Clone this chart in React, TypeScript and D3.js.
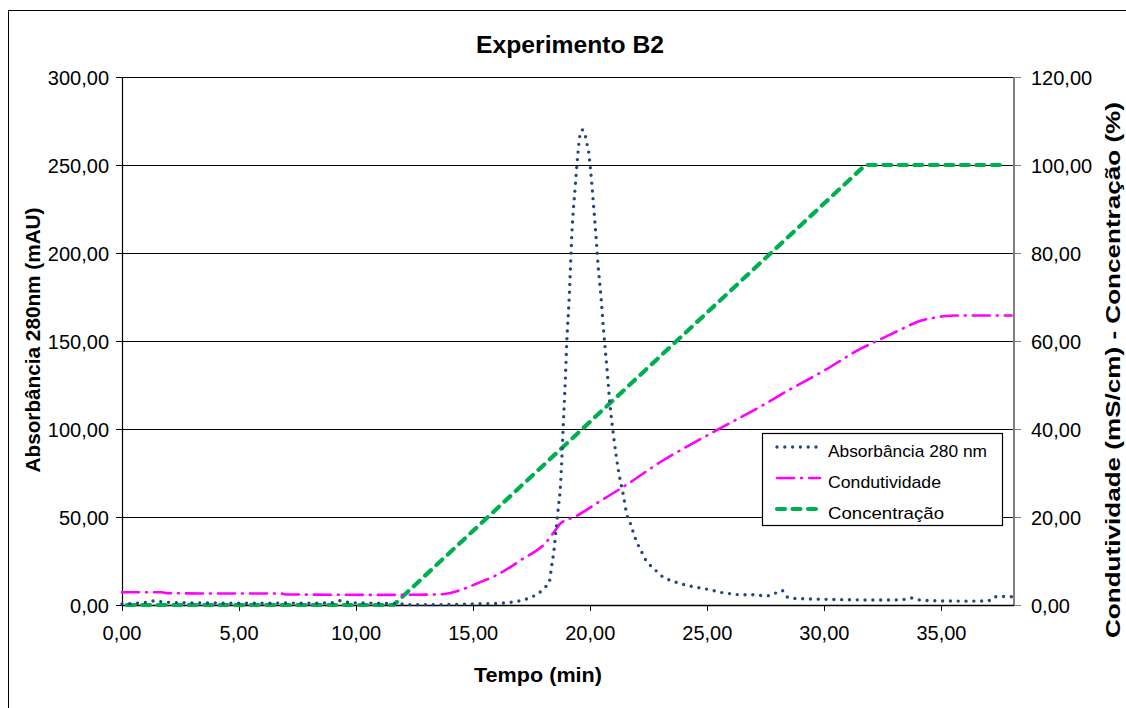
import * as d3 from 'd3';
import React from 'react';

// Absorbância 280 nm (eixo esquerdo, mAU)
const absTime = [
  0, 0.5, 1.0, 1.3, 1.6, 2.0, 3.0, 4.0, 5.0, 6.0, 7.0, 8.0, 9.0, 9.3, 9.6, 10.0, 11.0, 11.8, 12.3, 13.0,
  14.0, 15.0, 16.0, 16.6, 17.0, 17.3, 17.6, 17.9, 18.1, 18.25, 18.35, 18.45, 18.55, 18.65, 18.72, 18.79,
  18.85, 18.93, 19.0, 19.1, 19.22, 19.36, 19.47, 19.55, 19.65, 19.79, 19.86, 19.93, 20.0, 20.1, 20.18,
  20.26, 20.33, 20.46, 20.57, 20.71, 20.85, 21.0, 21.2, 21.42, 21.57, 21.71, 21.82, 21.92, 22.05, 22.2,
  22.35, 22.55, 22.8, 23.0, 23.3, 23.6, 23.9, 24.2, 24.5, 24.8, 25.1, 25.4, 25.7, 26.0, 26.3, 27.0, 27.4,
  27.7, 28.0, 28.2, 28.4, 28.7, 29.5, 30.5, 31.5, 32.5, 33.3, 33.7, 34.0, 34.5, 35.0, 36.0, 37.0, 37.2,
  37.6, 38.0,
];
const absorbance = [
  0.6, 0.8, 1.5, 2.3, 2.0, 1.5, 1.2, 1.1, 1.0, 1.0, 1.1, 1.0, 1.3, 2.4, 1.6, 1.2, 1.0, 0.7, 0.2, 0.1,
  0.3, 0.6, 0.9, 1.5, 2.4, 3.5, 5.2, 7.8, 10.4, 13, 22, 31, 44, 57, 66, 84,
  103, 126, 150, 174, 212, 238, 256, 266, 270, 266.5, 262, 257.6, 249, 234, 220.6,
  207, 194, 175, 156, 135, 113, 95.6, 76.7, 62, 51, 46.5, 42, 38, 34, 30,
  26, 22.7, 19.6, 17, 14.7, 13.2, 12, 11, 10.1, 9.4, 8.7, 7.8, 6.8, 6.4, 5.9, 5.8, 5.3,
  5.3, 7.4, 8.2, 4.6, 3.7, 3.4, 3.1, 2.9, 2.8, 3.0, 4.0, 3.0, 2.5, 2.3, 2.2, 2.3, 4.5,
  4.8, 4.7,
];

// Condutividade (eixo direito, mS/cm)
const condTime = [
  0, 1.7, 1.9, 4.0, 6.8, 7.0, 11.0, 13.5, 13.9, 14.4, 15.3, 16.0, 16.7, 17.15, 17.6, 18.0, 18.5, 18.7,
  19.4, 20.3, 21.6, 23.0, 24.4, 25.6, 27.0, 28.6, 30.0, 31.5, 32.4, 33.3, 34.1, 34.7, 35.2, 35.6, 38.0,
];
const conductivity = [
  2.9, 2.9, 2.7, 2.6, 2.6, 2.4, 2.3, 2.4, 2.6, 3.3, 5.2, 6.8, 9.0, 10.6, 12.0, 13.6, 16.9, 18.4,
  20.2, 23.2, 27.5, 32.5, 36.8, 40.3, 44.3, 49.2, 53.3, 58.1, 60.4, 62.7, 64.6, 65.3, 65.7, 65.8, 65.8,
];

// Concentração (eixo direito, %)
const concTime = [0.2, 11.6, 31.75, 37.5];
const concentration = [0, 0, 100, 100];

const xTicks = [0, 5, 10, 15, 20, 25, 30, 35];
const leftTicks = [0, 50, 100, 150, 200, 250, 300];
const rightTicks = [0, 20, 40, 60, 80, 100, 120];
const legendLabels = ['Absorbância 280 nm', 'Condutividade', 'Concentração'];

const FONT = '"Liberation Sans", Arial, sans-serif';
const BLUE = '#24477f';
const MAGENTA = '#ff00ff';
const GREEN = '#00b050';

const fmt = (v: number) => v.toFixed(2).replace('.', ',');

export default function App() {
  const left = 122;
  const right = 1014;
  const top = 77;
  const bottom = 605;

  const x = d3.scaleLinear().domain([0, 38.1]).range([left, right]);
  const yL = d3.scaleLinear().domain([0, 300]).range([bottom, top]);
  const yR = d3.scaleLinear().domain([0, 120]).range([bottom, top]);

  const lineL = d3
    .line<number>()
    .x((d, i) => x(absTime[i]))
    .y(d => yL(d))
    .curve(d3.curveMonotoneX);
  const condLine = d3
    .line<number>()
    .x((d, i) => x(condTime[i]))
    .y(d => yR(d))
    .curve(d3.curveMonotoneX);
  const concLine = d3
    .line<number>()
    .x((d, i) => x(concTime[i]))
    .y(d => yR(d));

  const legendStyles = [
    { stroke: BLUE, width: 3.4, dash: '0 7.8', cap: 'round' },
    { stroke: MAGENTA, width: 2.6, dash: '17 7 1 7', cap: 'round' },
    { stroke: GREEN, width: 4.2, dash: '8 7.5', cap: 'round' },
  ];

  return (
    <svg
      width={1126}
      height={708}
      style={{ position: 'absolute', left: 0, top: 0, background: '#fff' }}
      fontFamily={FONT}
    >
      <rect x={8.5} y={10.5} width={1130} height={720} fill="#fff" stroke="#000" strokeWidth={1} />

      <text x={570} y={53} textAnchor="middle" fontSize={23} fontWeight="bold" textLength={188} lengthAdjust="spacingAndGlyphs">
        Experimento B2
      </text>

      {/* gridlines */}
      {leftTicks.map(t => (
        <line key={'g' + t} x1={left} x2={right} y1={Math.round(yL(t)) + 0.5} y2={Math.round(yL(t)) + 0.5} stroke="#000" strokeWidth={1.2} />
      ))}

      {/* left axis */}
      <line x1={left + 0.5} x2={left + 0.5} y1={top} y2={bottom} stroke="#000" strokeWidth={1.2} />
      {leftTicks.map(t => (
        <g key={'l' + t}>
          <line x1={left - 6} x2={left} y1={Math.round(yL(t)) + 0.5} y2={Math.round(yL(t)) + 0.5} stroke="#000" />
          <text x={109} y={yL(t) + 7.5} textAnchor="end" fontSize={20}>
            {fmt(t)}
          </text>
        </g>
      ))}

      {/* right axis */}
      <line x1={right} x2={right} y1={top} y2={bottom + 1} stroke="#808080" strokeWidth={2} />
      {rightTicks.map(t => (
        <g key={'r' + t}>
          <line x1={right} x2={right + 7} y1={Math.round(yR(t)) + 0.5} y2={Math.round(yR(t)) + 0.5} stroke="#808080" />
          <text x={1031} y={yR(t) + 7.5} textAnchor="start" fontSize={20}>
            {fmt(t)}
          </text>
        </g>
      ))}

      {/* x axis */}
      <line x1={left} x2={right} y1={bottom + 0.5} y2={bottom + 0.5} stroke="#000" strokeWidth={1.5} />
      {xTicks.map(t => (
        <g key={'x' + t}>
          <line x1={Math.round(x(t)) + 0.5} x2={Math.round(x(t)) + 0.5} y1={bottom} y2={bottom + 6} stroke="#000" />
          <text x={x(t)} y={639.5} textAnchor="middle" fontSize={20}>
            {fmt(t)}
          </text>
        </g>
      ))}

      <text x={538} y={682} textAnchor="middle" fontSize={21} fontWeight="bold" textLength={128} lengthAdjust="spacingAndGlyphs">
        Tempo (min)
      </text>
      <text
        transform="translate(40,340) rotate(-90)"
        textAnchor="middle"
        fontSize={21}
        fontWeight="bold"
        textLength={265}
        lengthAdjust="spacingAndGlyphs"
      >
        Absorbância 280nm (mAU)
      </text>
      <text
        transform="translate(1120,370) rotate(-90)"
        textAnchor="middle"
        fontSize={21}
        fontWeight="bold"
        textLength={536}
        lengthAdjust="spacingAndGlyphs"
      >
        Condutividade (mS/cm) - Concentração (%)
      </text>

      {/* series */}
      <path d={concLine(concentration) || ''} fill="none" stroke={GREEN} strokeWidth={4.2} strokeDasharray="8 7.5" strokeLinecap="round" />
      <path d={condLine(conductivity) || ''} fill="none" stroke={MAGENTA} strokeWidth={2.6} strokeDasharray="17 7 1 7" strokeLinecap="round" />
      <path d={lineL(absorbance) || ''} fill="none" stroke={BLUE} strokeWidth={3.4} strokeDasharray="0 7.8" strokeLinecap="round" />

      {/* legend */}
      <rect x={762.5} y={433.5} width={240} height={92} fill="#fff" stroke="#000" strokeWidth={1.2} />
      {legendLabels.map((label, i) => {
        const cy = 447 + i * 31;
        const s = legendStyles[i];
        return (
          <g key={label}>
            <line
              x1={777}
              x2={820}
              y1={cy}
              y2={cy}
              stroke={s.stroke}
              strokeWidth={s.width}
              strokeDasharray={s.dash}
              strokeLinecap={s.cap as any}
            />
            <text x={828} y={cy + 9.5} fontSize={17} textLength={i === 0 ? 159 : i === 1 ? 113 : 116} lengthAdjust="spacingAndGlyphs">
              {label}
            </text>
          </g>
        );
      })}
    </svg>
  );
}
